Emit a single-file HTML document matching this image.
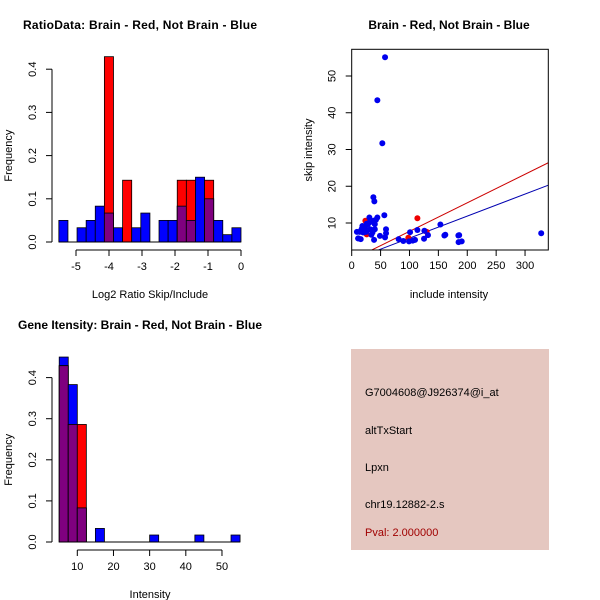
<!DOCTYPE html>
<html><head><meta charset="utf-8"><style>
body{margin:0;background:#fff}
svg{display:block;font-family:"Liberation Sans",sans-serif}
</style></head><body>
<svg id="c" width="600" height="600" viewBox="0 0 600 600" xmlns="http://www.w3.org/2000/svg">
<rect width="600" height="600" fill="#fff"/>
<text x="140" y="29" font-size="12" font-weight="bold" text-anchor="middle" textLength="234">RatioData: Brain - Red, Not Brain - Blue</text>
<text x="449" y="29" font-size="12" font-weight="bold" text-anchor="middle">Brain - Red, Not Brain - Blue</text>
<text x="140" y="329" font-size="12" font-weight="bold" text-anchor="middle">Gene Itensity: Brain - Red, Not Brain - Blue</text>
<g id="p1"></g>
<g id="p2"></g>
<g id="p3"></g>
<g>
<rect x="351" y="349" width="198" height="201" fill="#e5c7c0"/>
<text x="365" y="396" font-size="11">G7004608@J926374@i_at</text>
<text x="365" y="434" font-size="11">altTxStart</text>
<text x="365" y="471" font-size="11">Lpxn</text>
<text x="365" y="508" font-size="11">chr19.12882-2.s</text>
<text x="365" y="536" font-size="11" fill="#a00000">Pval: 2.000000</text>
</g>
</svg>
<script>
// Ratio histogram data
const ratioBinStart = -5.52;
const ratioBinWidth = 0.276;
const ratioBlue = [0.05,0,0.033,0.05,0.083,0.067,0.033,0,0.033,0.067,0,0.05,0.05,0.083,0.05,0.15,0.1,0.05,0.017,0.033];
const ratioRed  = [0,0,0,0,0,0.429,0,0.143,0,0,0,0,0,0.143,0.143,0,0.143,0,0,0];
const ratioXTicks = [-5,-4,-3,-2,-1,0];
const ratioYTicks = [0,0.1,0.2,0.3,0.4];
// Intensity histogram data
const intBinStart = 5;
const intBinWidth = 2.5;
const intBlue = [0.45,0.383,0.083,0,0.033,0,0,0,0,0,0.017,0,0,0,0,0.017,0,0,0,0.017];
const intRed  = [0.429,0.286,0.286,0,0,0,0,0,0,0,0,0,0,0,0,0,0,0,0,0];
const intXTicks = [10,20,30,40,50];
const intYTicks = [0,0.1,0.2,0.3,0.4];
// Scatter data
const blueX = [57.7,44.4,53,37.5,39.2,56.5,30.6,44.4,38.7,48.9,59.4,59.4,57.7,81.3,89.4,99.2,101,105.6,109.6,113.7,125.2,125.8,132,153.5,160.4,162,184.6,186,185,190.4,328,11.5,15.6,13.8,17,18.5,23,25,28,30.5,32,36,38,40,40,9,11,20,22,26,34,42];
const blueY = [55.1,43.4,31.7,17,15.9,12.1,11.5,11.5,5.4,6.5,8.3,7.2,6.1,5.6,5.1,5,7.5,5.2,5.4,8.1,5.7,7.9,6.7,9.6,6.6,6.8,6.6,6.7,4.8,5,7.2,5.8,5.6,7.6,8.3,9.2,8.8,7.6,9.7,10.1,8.3,7.4,10.6,9.7,8.3,7.6,5.8,7.4,8.6,9.8,6.8,10.9];
const redX = [113.7,23.7,26,98,129.8];
const redY = [11.3,10.6,6.9,6,7.6];
const scXTicks = [0,50,100,150,200,250,300];
const scYTicks = [10,20,30,40,50];
const redFit = [-0.04,0.0777];
const blueFit = [-0.12,0.060];

const NS="http://www.w3.org/2000/svg";
function mk(parent,tag,attrs){const e=document.createElementNS(NS,tag);for(const k in attrs)e.setAttribute(k,attrs[k]);parent.appendChild(e);return e;}

function hist(g,cfg){
  const X=v=>cfg.x0px+(v-cfg.x0)*cfg.xs, Y=v=>cfg.y0px-v*cfg.ys;
  for(let i=0;i<cfg.blue.length;i++){
    const a=cfg.binStart+i*cfg.binW, b=a+cfg.binW, bl=cfg.blue[i], rd=cfg.red[i], mn=Math.min(bl,rd);
    if(bl>0){const r=mk(g,'rect',{x:X(a),y:Y(bl),width:X(b)-X(a),height:Y(0)-Y(bl),fill:'#0000ff',stroke:'#000','stroke-width':0.8});
      
      }
    if(rd>0){const r=mk(g,'rect',{x:X(a),y:Y(rd),width:X(b)-X(a),height:Y(0)-Y(rd),fill:'#ff0000',stroke:'#000','stroke-width':0.8});
      
      }
    if(mn>0){const r=mk(g,'rect',{x:X(a),y:Y(mn),width:X(b)-X(a),height:Y(0)-Y(mn),fill:'#7f007f',stroke:'#000','stroke-width':0.8});
      
      }
  }
  const x1=cfg.binStart, x2=cfg.binStart+cfg.blue.length*cfg.binW;
  mk(g,'line',{x1:X(x1),x2:X(x2),y1:Y(0),y2:Y(0),stroke:'#000'});
  const ya=mk(g,'g',{});
  
  
  const yt=cfg.yTicks;
  mk(ya,'line',{x1:cfg.yAxisX,x2:cfg.yAxisX,y1:Y(yt[0]),y2:Y(yt[yt.length-1]),stroke:'#000'});
  yt.forEach(t=>{mk(ya,'line',{x1:cfg.yAxisX-6,x2:cfg.yAxisX,y1:Y(t),y2:Y(t),stroke:'#000'});
    const tx=mk(ya,'text',{x:0,y:0,'font-size':11,'text-anchor':'middle',transform:`translate(${cfg.yAxisX-16},${Y(t)}) rotate(-90)`});tx.textContent=t.toFixed(1);});
  const yl=mk(ya,'text',{'font-size':11,'text-anchor':'middle',transform:`translate(12,${(Y(yt[0])+Y(yt[yt.length-1]))/2}) rotate(-90)`});yl.textContent='Frequency';
  const xa=mk(g,'g',{});
  
  
  const xt=cfg.xTicks, ay=Y(0)+8;
  mk(xa,'line',{x1:X(xt[0]),x2:X(xt[xt.length-1]),y1:ay,y2:ay,stroke:'#000'});
  xt.forEach(t=>{mk(xa,'line',{x1:X(t),x2:X(t),y1:ay,y2:ay+6,stroke:'#000'});
    const tx=mk(xa,'text',{x:X(t),y:ay+20,'font-size':11,'text-anchor':'middle'});tx.textContent=t;});
  const xl=mk(xa,'text',{x:cfg.xlabX,y:Y(0)+56,'font-size':11,'text-anchor':'middle'});xl.textContent=cfg.xlab;
}
hist(document.getElementById('p1'),{binStart:ratioBinStart,binW:ratioBinWidth,blue:ratioBlue,red:ratioRed,x0:-5,x0px:76,xs:33,y0px:242,ys:432,yAxisX:52,yTicks:ratioYTicks,xTicks:ratioXTicks,xlab:'Log2 Ratio Skip/Include',xlabX:150});
hist(document.getElementById('p3'),{binStart:intBinStart,binW:intBinWidth,blue:intBlue,red:intRed,x0:10,x0px:77.3,xs:3.617,y0px:542,ys:411,yAxisX:52,yTicks:intYTicks,xTicks:intXTicks,xlab:'Intensity',xlabX:150});

(function(){
  const g=document.getElementById('p2');
  const L=351.7,R=548.3,T=49.3,B=250;
  const X=v=>L+v*0.5778, Y=v=>223-(v-10)*3.675;
  const cp=mk(g,'clipPath',{id:'clp'});mk(cp,'rect',{x:L,y:T,width:R-L,height:B-T});
  const fits=[[blueFit,'#0000b0','blue-fit-line'],[redFit,'#cc0000','red-fit-line']];
  fits.forEach(f=>{const l=mk(g,'line',{x1:X(0),y1:Y(f[0][0]),x2:X(340.3),y2:Y(f[0][0]+f[0][1]*340.3),stroke:f[1],'stroke-width':1,'clip-path':'url(#clp)'});
    
    });
  redX.forEach((x,i)=>{const c=mk(g,'circle',{cx:X(x),cy:Y(redY[i]),r:3,fill:'#ee0000'});
    
    });
  blueX.forEach((x,i)=>{const c=mk(g,'circle',{cx:X(x),cy:Y(blueY[i]),r:3,fill:'#0000ee'});
    
    });
  const box=mk(g,'rect',{x:L,y:T,width:R-L,height:B-T,fill:'none',stroke:'#000'});
  
  
  scXTicks.forEach(t=>{mk(g,'line',{x1:X(t),x2:X(t),y1:B,y2:B+6,stroke:'#000'});
    const tx=mk(g,'text',{x:X(t),y:B+19,'font-size':11,'text-anchor':'middle'});tx.textContent=t;});
  scYTicks.forEach(t=>{mk(g,'line',{x1:L-6,x2:L,y1:Y(t),y2:Y(t),stroke:'#000'});
    const tx=mk(g,'text',{'font-size':11,'text-anchor':'middle',transform:`translate(${L-16},${Y(t)}) rotate(-90)`});tx.textContent=t;});
  const xl=mk(g,'text',{x:449,y:298,'font-size':11,'text-anchor':'middle'});xl.textContent='include intensity';
  
  
  const yl=mk(g,'text',{'font-size':11,'text-anchor':'middle',transform:'translate(312,150) rotate(-90)'});yl.textContent='skip intensity';
  
  
})();
</script>
</body></html>
